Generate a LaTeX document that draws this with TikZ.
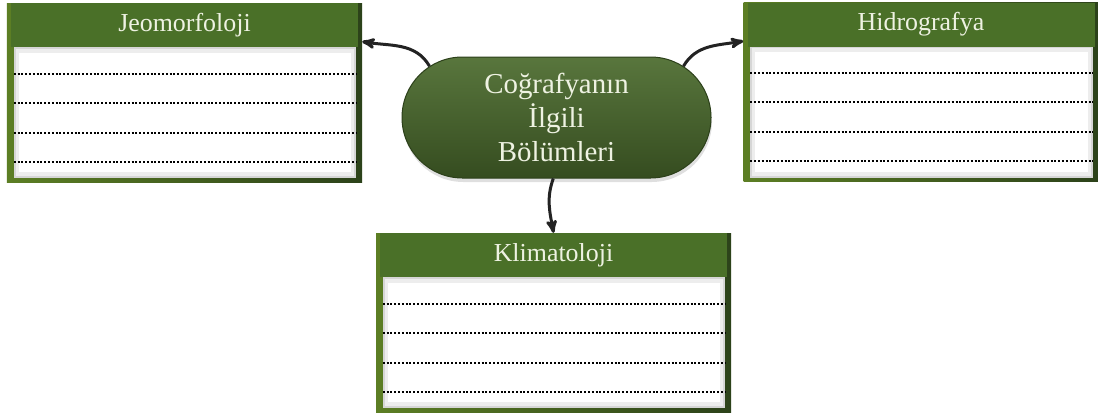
\documentclass[tikz,border=0pt]{standalone}
\usepackage{fontspec}
\setmainfont{Liberation Serif}
\definecolor{headgreen}{RGB}{74,112,40}
\definecolor{framegreen}{RGB}{44,66,26}
\definecolor{pillgreen}{RGB}{74,106,44}
\definecolor{cream}{RGB}{238,242,226}
\definecolor{arrowgray}{RGB}{35,35,35}
\usetikzlibrary{arrows}
\usetikzlibrary{shapes}
\usetikzlibrary{shadows}
\tikzset{
  boxframe/.style={rectangle, minimum width=355bp, minimum height=179bp,
    inner sep=0, left color=headgreen!90!yellow, right color=framegreen},
  boxhead/.style={rectangle, anchor=north, minimum width=347bp,
    minimum height=44bp, inner sep=0, fill=headgreen, text=cream,
    font=\fontsize{26}{30}\selectfont},
  pillbox/.style={rounded rectangle, minimum width=309bp,
    minimum height=121bp, inner sep=0, top color=pillgreen!92!white,
    bottom color=pillgreen!72!black, draw=pillgreen!60!black,
    line width=1bp, text=cream, align=center,
    font=\fontsize{29}{34}\selectfont,
    drop shadow={opacity=.25, shadow xshift=1bp, shadow yshift=-4bp}},
  dotline/.style={line width=2.2bp, dash pattern=on 2bp off 1.8bp},
  arrow/.style={->,>=stealth', line width=3bp, draw=arrowgray}
}
\begin{document}
\begin{tikzpicture}[x=1bp,y=-1bp]
  \useasboundingbox[fill=white] (0,0) rectangle (1098,412);

  % the three note boxes
  \foreach \bname/\bpos/\btitle in {jeo/{184.5,92.5}/Jeomorfoloji,
      hid/{921,92}/Hidrografya, kli/{553.5,322.5}/Klimatoloji} {
    \node[boxframe] (\bname) at (\bpos) {};
    \fill[black!16] ([shift={(7,44)}]\bname.north west)
      rectangle ([shift={(-6,-4)}]\bname.south east);
    \fill[black!7] ([shift={(9,46)}]\bname.north west)
      rectangle ([shift={(-8,-6)}]\bname.south east);
    \fill[white] ([shift={(12,50)}]\bname.north west)
      rectangle ([shift={(-11,-10)}]\bname.south east);
    \node[boxhead] (\bname-head) at (\bname.north) {\btitle};
    \foreach \d in {71,100,130,159}
      \draw[dotline] ([shift={(7,\d)}]\bname.north west)
        -- ([shift={(-6,\d)}]\bname.north east);
  }

  \node[pillbox] (cog) at (556.5,117.5) {Coğrafyanın\\İlgili\\Bölümleri};

  \draw[arrow] (cog.158) to[out=120,in=-10] (jeo.16);
  \draw[arrow] (cog.22) to[out=60,in=190] (hid.164);
  \draw[arrow] (cog.-93) to[out=-110,in=100] (kli.north);
\end{tikzpicture}
\end{document}
